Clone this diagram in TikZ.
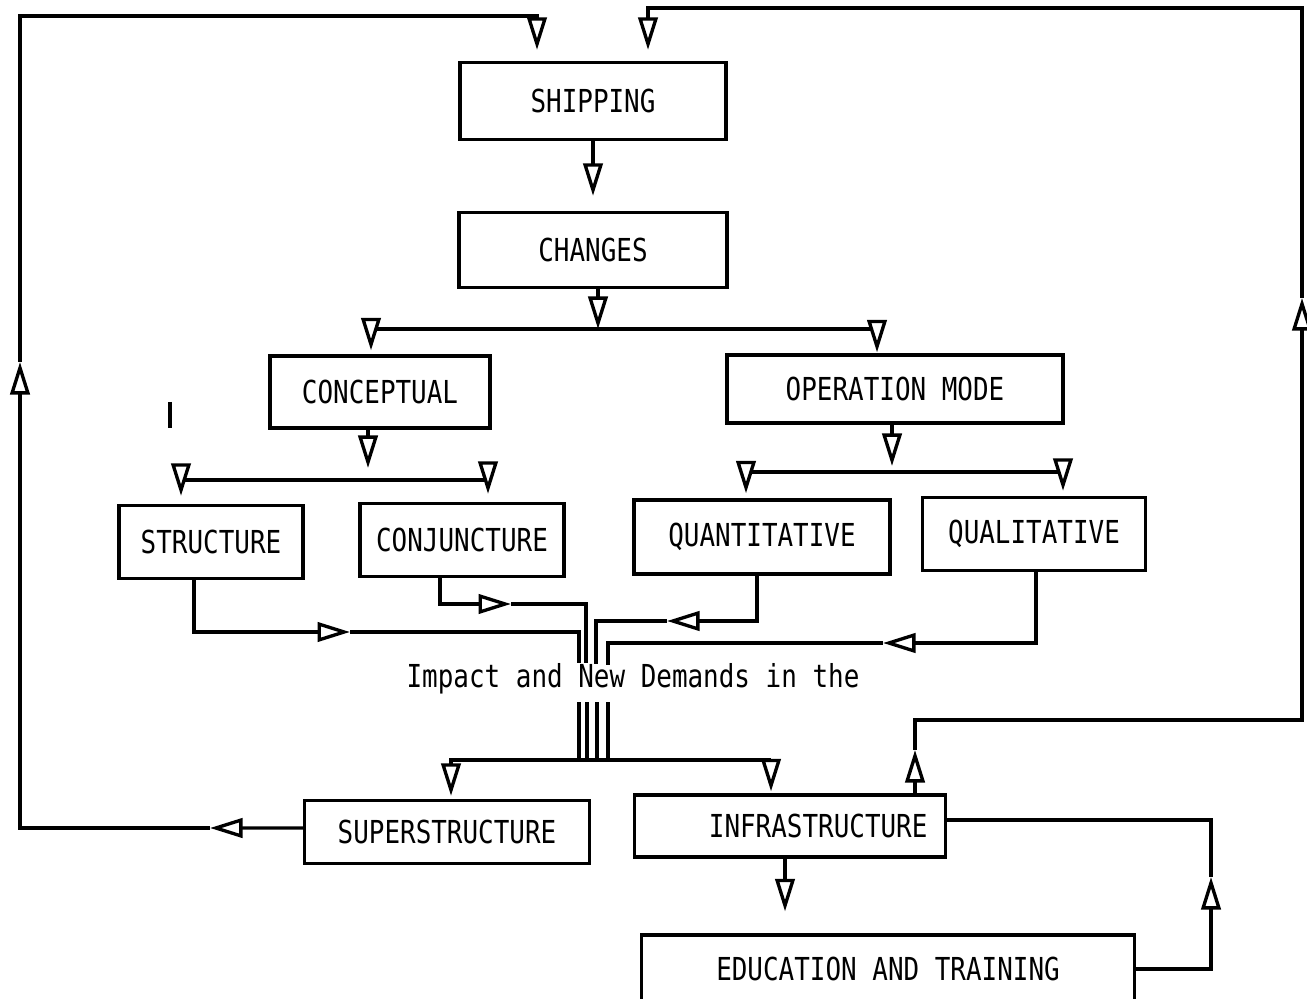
\documentclass[tikz,border=0pt]{standalone}
\usepackage{fontspec}
\setmonofont[FakeStretch=0.82]{DejaVu Sans Mono}
\usetikzlibrary{arrows.meta}
\tikzset{
  box/.style={draw, inner sep=0pt, font=\ttfamily\fontsize{18}{20}\selectfont},
  tri/.style={-{Triangle[open,fill=white,length=18.5pt,width=11pt]}},
}

\begin{document}
\begin{tikzpicture}[x=0.02cm, y=-0.02cm, line width=1.9pt]
  \useasboundingbox (0,0) rectangle (1307,999);
  \clip (0,0) rectangle (1307,999);

  % Boxes
  \node[box, minimum width=5.32cm, minimum height=1.54cm] (ship) at (593,101) {SHIPPING};
  \node[box, minimum width=5.36cm, minimum height=1.5cm] (changes) at (593,250) {CHANGES};
  \node[box, minimum width=4.4cm, minimum height=1.44cm] (conc) at (380,392) {CONCEPTUAL};
  \node[box, minimum width=6.72cm, minimum height=1.36cm] (oper) at (895,389) {OPERATION MODE};
  \node[box, minimum width=3.68cm, minimum height=1.46cm] (struct) at (211,542) {STRUCTURE};
  \node[box, minimum width=4.08cm, minimum height=1.46cm] (conj) at (462,540) {CONJUNCTURE};
  \node[box, minimum width=5.12cm, minimum height=1.48cm] (quant) at (762,537) {QUANTITATIVE};
  \node[box, minimum width=4.46cm, minimum height=1.46cm] (qual) at (1034,534) {QUALITATIVE};
  \node[box, minimum width=5.7cm, minimum height=1.26cm] (super) at (447,832) {SUPERSTRUCTURE};
  \node[box, minimum height=1.24cm, text width=5.5cm, inner xsep=0.36cm, align=right] (infra) at (790,826) {INFRASTRUCTURE};
  \node[box, minimum width=9.86cm, minimum height=1.36cm] (edu) at (888,969) {EDUCATION AND TRAINING};

  \node[font=\ttfamily\fontsize{18}{20}\selectfont] (impact) at (633,679) {Impact and New Demands in the};

  % Shipping to changes
  \draw[tri, shorten >=0.3cm] (ship) -- (changes);

  \coordinate (b1) at (598,329);
  \draw[tri] (changes.south -| b1) -- (b1);
  \draw[tri, shorten >=0.08cm] (b1) -| ([xshift=-0.18cm]conc.north);
  \draw[tri, shorten >=0.02cm] (b1) -| ([xshift=-0.36cm]oper.north);

  \coordinate (b2) at (368,480);
  \draw[tri, shorten >=0.24cm] (conc.south -| b2) -- (b2);
  \draw[tri, shorten >=0.16cm] (b2) -| ([xshift=-0.6cm]struct.north);
  \draw[tri, shorten >=0.16cm] (b2) -| ([xshift=0.52cm]conj.north);

  \coordinate (b3) at (892,472);
  \draw[tri, shorten >=0.12cm] (oper.south -| b3) -- (b3);
  \draw[tri, shorten >=0.1cm] (b3) -| ([xshift=-0.32cm]quant.north);
  \draw[tri, shorten >=0.1cm] (b3) -| ([xshift=0.58cm]qual.north);

  % Into the impact
  \coordinate (s1) at (350,632);
  \coordinate (j1) at (579,663);
  \draw[tri] ([xshift=-0.34cm]struct.south) |- (s1);
  \draw (s1) -| (j1);
  \coordinate (c1) at (511,604);
  \coordinate (j2) at (586,663);
  \draw[tri] ([xshift=-0.44cm]conj.south) |- (c1);
  \draw (c1) -| (j2);
  \coordinate (q1) at (667,621);
  \coordinate (j3) at (596,664);
  \draw[tri] ([xshift=-0.1cm]quant.south) |- (q1);
  \draw (q1) -| (j3);
  \coordinate (l1) at (883,643);
  \coordinate (j4) at (608,665);
  \draw[tri] ([xshift=0.04cm]qual.south) |- (l1);
  \draw (l1) -| (j4);

  % Out of the impact
  \coordinate (b4) at (587,760);
  \foreach \x [count=\i] in {579,587,597,608} {
    \coordinate (k\i) at (\x,702);
    \draw (k\i) -- (k\i |- b4);
  }
  \draw[tri, shorten >=0.06cm] (b4) -| ([xshift=0.08cm]super.north);
  \draw[tri, shorten >=0.04cm] (b4) -| ([xshift=-0.38cm]infra.north);

  \draw[tri, shorten >=0.44cm] ([xshift=-0.1cm]infra.south) -- ([xshift=-0.1cm]infra.south |- edu.north);

  \coordinate (e1) at (1211,877);
  \draw[tri] (edu.east) -| (e1);
  \draw (e1) |- ([yshift=0.12cm]infra.east);

  % Loop back on the left
  \coordinate (aL) at (210,828);
  \coordinate (aUL) at (20,362);
  \coordinate (topL) at (537,16);
  \draw[tri] ([yshift=0.08cm]super.west) -- (aL);
  \draw[tri] (aL) -| (aUL);
  \draw[tri, shorten >=0.22cm] (aUL) |- (topL) -- (topL |- ship.north);

  % Loop back on the right
  \coordinate (rtip) at (915,750);
  \coordinate (rc) at (915,720);
  \coordinate (rmid) at (1302,298);
  \coordinate (topR) at (648,8);
  \draw[tri] (infra.north -| rtip) -- (rtip);
  \draw[tri] (rtip) -- (rc) -| (rmid);
  \draw[tri, shorten >=0.22cm] (rmid) |- (topR) -- (topR |- ship.north);

  \draw (170,402) -- (170,428);
\end{tikzpicture}
\end{document}
